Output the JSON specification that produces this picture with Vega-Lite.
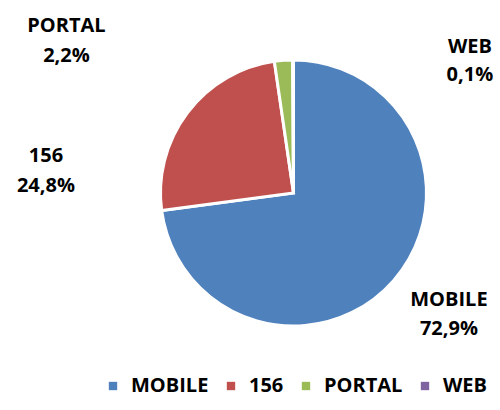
{
  "$schema": "https://vega.github.io/schema/vega-lite/v6.json",
  "width": 381,
  "height": 360,
  "autosize": {"type": "none"},
  "padding": {"left": 103, "top": 13, "right": 16, "bottom": 37},
  "background": "white",
  "data": {"values": [
    {"cat": "MOBILE", "value": 72.9, "order": 1},
    {"cat": "156", "value": 24.8, "order": 2},
    {"cat": "PORTAL", "value": 2.2, "order": 3},
    {"cat": "WEB", "value": 0.1, "order": 4}
  ]},
  "transform": [
    {"stack": "value", "groupby": [], "sort": [{"field": "order"}], "as": ["v0", "v1"]},
    {"calculate": "(datum.v0 + datum.v1) / 2", "as": "mid"},
    {"calculate": "[datum.cat, replace(format(datum.value, '.1f'), '.', ',') + '%']", "as": "label"}
  ],
  "layer": [
    {
      "mark": {"type": "arc", "outerRadius": 133, "stroke": "white", "strokeWidth": 3},
      "encoding": {
        "theta": {"field": "v0", "type": "quantitative", "scale": {"domain": [0, 100]}},
        "theta2": {"field": "v1"},
        "color": {
          "field": "cat", "type": "nominal",
          "scale": {"domain": ["MOBILE", "156", "PORTAL", "WEB"], "range": ["#4F81BD", "#C0504D", "#9BBB59", "#8064A2"]},
          "legend": {
            "orient": "bottom", "direction": "horizontal", "title": null,
            "symbolType": "square", "symbolSize": 70, "symbolStrokeWidth": 0,
            "labelFont": "Open Sans", "labelFontSize": 20, "labelFontWeight": "bold", "labelColor": "black",
            "columnPadding": 12, "offset": 3, "labelOffset": 8, "padding": 0
          }
        }
      }
    },
    {
      "transform": [{"filter": "datum.cat === 'MOBILE'"}],
      "mark": {"type": "text", "radius": 200, "dx": 5, "dy": -25, "font": "Open Sans", "fontSize": 20, "fontWeight": "bold", "lineHeight": 29, "align": "center", "baseline": "middle", "color": "black"},
      "encoding": {"theta": {"field": "mid", "type": "quantitative", "scale": {"domain": [0, 100]}}, "text": {"field": "label"}}
    },
    {
      "transform": [{"filter": "datum.cat === '156'"}],
      "mark": {"type": "text", "radius": 200, "dx": -88, "dy": 84, "font": "Open Sans", "fontSize": 20, "fontWeight": "bold", "lineHeight": 30, "align": "center", "baseline": "middle", "color": "black"},
      "encoding": {"theta": {"field": "mid", "type": "quantitative", "scale": {"domain": [0, 100]}}, "text": {"field": "label"}}
    },
    {
      "transform": [{"filter": "datum.cat === 'PORTAL'"}],
      "mark": {"type": "text", "radius": 200, "dx": -212, "dy": 32, "font": "Open Sans", "fontSize": 20, "fontWeight": "bold", "lineHeight": 30, "align": "center", "baseline": "middle", "color": "black"},
      "encoding": {"theta": {"field": "mid", "type": "quantitative", "scale": {"domain": [0, 100]}}, "text": {"field": "label"}}
    },
    {
      "transform": [{"filter": "datum.cat === 'WEB'"}],
      "mark": {"type": "text", "radius": 200, "dx": 177, "dy": 54, "font": "Open Sans", "fontSize": 20, "fontWeight": "bold", "lineHeight": 28, "align": "center", "baseline": "middle", "color": "black"},
      "encoding": {"theta": {"field": "mid", "type": "quantitative", "scale": {"domain": [0, 100]}}, "text": {"field": "label"}}
    }
  ],
  "config": {"view": {"stroke": null}}
}
